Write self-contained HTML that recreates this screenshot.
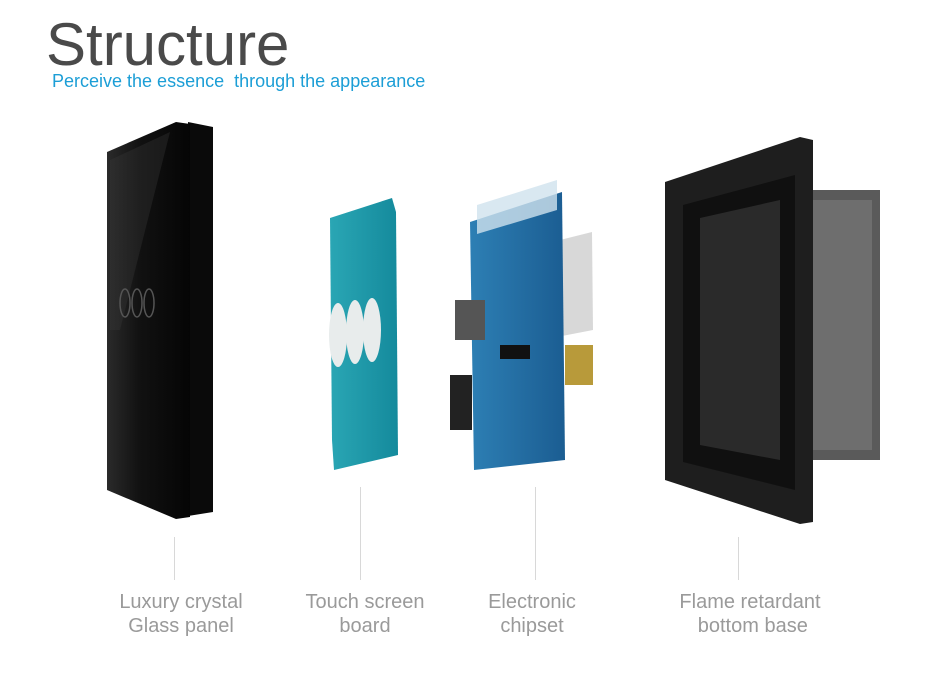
<!DOCTYPE html>
<html><head><meta charset="utf-8"><style>
body{margin:0;width:950px;height:687px;background:#fff;position:relative;overflow:hidden;font-family:"Liberation Sans",sans-serif}
.t{position:absolute;left:46px;top:10px;font-size:60px;font-weight:300;color:#4a4a4a;letter-spacing:0px}
.s{position:absolute;left:52px;top:71px;font-size:18px;color:#1c9ed6}
.l{position:absolute;width:200px;text-align:center;color:#9a9a9a;font-size:20px;line-height:24px;top:590px}
</style></head><body>
<div class="t">Structure</div>
<div class="s">Perceive the essence&nbsp; through the appearance</div>
<svg width="950" height="687" style="position:absolute;left:0;top:0">
<defs>
<linearGradient id="g1" x1="0" x2="1"><stop offset="0" stop-color="#2a2a2a"/><stop offset="0.4" stop-color="#111"/><stop offset="1" stop-color="#050505"/></linearGradient>
<linearGradient id="g2" x1="0" x2="1"><stop offset="0" stop-color="#2aa6b4"/><stop offset="1" stop-color="#148a9c"/></linearGradient>
<linearGradient id="g3" x1="0" x2="1"><stop offset="0" stop-color="#2d7fb4"/><stop offset="1" stop-color="#1b5d92"/></linearGradient>
</defs>
<polygon points="188,122 213,127 213,512 188,516" fill="#0a0a0a"/>
<polygon points="107,152 176,122 190,124 190,517 176,519 107,490" fill="url(#g1)"/>
<polygon points="110,160 170,132 120,330 110,330" fill="#3a3a3a" opacity="0.35"/>
<ellipse cx="125" cy="303" rx="5" ry="14" fill="none" stroke="#555" stroke-width="1.5"/>
<ellipse cx="137" cy="303" rx="5" ry="14" fill="none" stroke="#555" stroke-width="1.5"/>
<ellipse cx="149" cy="303" rx="5" ry="14" fill="none" stroke="#555" stroke-width="1.5"/>
<polygon points="330,218 392,198 396,212 398,455 334,470 332,440" fill="url(#g2)"/>
<ellipse cx="338" cy="335" rx="9" ry="32" fill="#e8ecec"/>
<ellipse cx="355" cy="332" rx="9" ry="32" fill="#e8ecec"/>
<ellipse cx="372" cy="330" rx="9" ry="32" fill="#e8ecec"/>
<polygon points="560,240 592,232 593,330 562,336" fill="#d8d8d8"/>
<polygon points="470,222 562,192 565,460 474,470" fill="url(#g3)"/>
<polygon points="477,205 557,180 557,210 477,234" fill="#cfe2ee" opacity="0.8"/>
<rect x="565" y="345" width="28" height="40" fill="#b89a3a"/>
<rect x="455" y="300" width="30" height="40" fill="#555"/>
<rect x="500" y="345" width="30" height="14" fill="#111"/>
<rect x="450" y="375" width="22" height="55" fill="#222"/>
<rect x="808" y="190" width="72" height="270" fill="#5a5a5a"/>
<rect x="812" y="200" width="60" height="250" fill="#6e6e6e"/>
<polygon points="665,182 800,137 813,140 813,522 800,524 665,480" fill="#1e1e1e"/>
<polygon points="683,205 795,175 795,490 683,462" fill="#101010"/>
<polygon points="700,218 780,200 780,460 700,445" fill="#2a2a2a"/>
<g stroke="#d8d8d8" stroke-width="1">
<line x1="174.5" y1="537" x2="174.5" y2="580"/>
<line x1="360.5" y1="487" x2="360.5" y2="580"/>
<line x1="535.5" y1="487" x2="535.5" y2="580"/>
<line x1="738.5" y1="537" x2="738.5" y2="580"/>
</g>
</svg>
<div class="l" style="left:81px">Luxury crystal<br>Glass panel</div>
<div class="l" style="left:265px">Touch screen<br>board</div>
<div class="l" style="left:432px">Electronic<br>chipset</div>
<div class="l" style="left:650px">Flame retardant<br>&nbsp;bottom base</div>
</body></html>
